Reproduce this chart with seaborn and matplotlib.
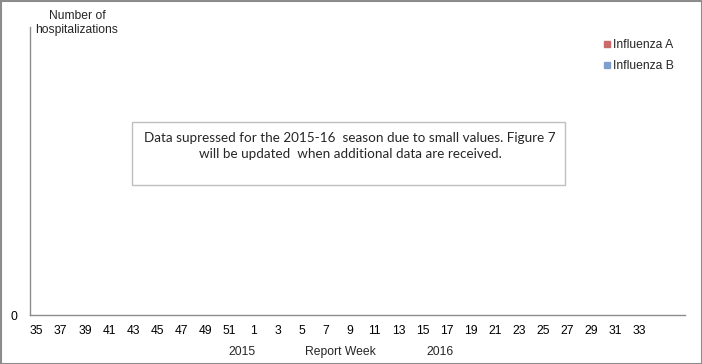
import matplotlib
matplotlib.use("Agg")
import matplotlib.pyplot as plt
import seaborn as sns
import pandas as pd
import numpy as np
from matplotlib.patches import Rectangle
from matplotlib.lines import Line2D

sns.set_theme(style="white")
plt.rcParams['font.family'] = ['Liberation Sans', 'DejaVu Sans']

weeks = list(range(35, 53)) + list(range(1, 37))
influenza_a = [np.nan] * len(weeks)   # suppressed
influenza_b = [np.nan] * len(weeks)   # suppressed
series_names = ["Influenza A", "Influenza B"]
series_colors = ["#CC6B6B", "#7F9FCF"]
note = ("Data supressed for the 2015-16  season due to small values. Figure 7\n"
        "will be updated  when additional data are received.")

df = pd.DataFrame({
    "idx": list(range(len(weeks))) * 2,
    "value": influenza_a + influenza_b,
    "series": [series_names[0]] * len(weeks) + [series_names[1]] * len(weeks),
})

fig = plt.figure(figsize=(7.02, 3.64), dpi=100)
ax = fig.add_axes([30/702, 49/364, 655/702, 288/364])
sns.lineplot(data=df, x="idx", y="value", hue="series", palette=series_colors,
             ax=ax, legend=False)

ax.set_xlim(-0.55, 53.75)
ax.set_ylim(0, 1)
tick_idx = list(range(0, 52, 2))
ax.set_xticks(tick_idx)
ax.set_xticklabels([str(weeks[i]) for i in tick_idx], fontsize=8.7, color="black")
ax.set_yticks([0])
ax.set_yticklabels(["0"], fontsize=8.7, color="black")
ax.tick_params(axis="x", length=0, pad=7)
ax.tick_params(axis="y", length=0, pad=9)
ax.set_xlabel("")
ax.set_ylabel("")
for s in ["top", "right"]:
    ax.spines[s].set_visible(False)
for s in ["left", "bottom"]:
    ax.spines[s].set_color("#8C8C8C")
    ax.spines[s].set_linewidth(1.0)

fig.text(77/702, 1 - 23/364, "Number of\nhospitalizations", ha="center", va="center",
         fontsize=8.7, linespacing=1.2)
fig.text(242/702, 1 - 352/364, "2015", ha="center", va="center", fontsize=8.7)
fig.text(340/702, 1 - 352/364, "Report Week", ha="center", va="center", fontsize=8.7)
fig.text(440/702, 1 - 352/364, "2016", ha="center", va="center", fontsize=8.7)

handles = [Line2D([0], [0], marker="s", linestyle="none", markersize=5,
                  markerfacecolor=c, markeredgecolor=c) for c in series_colors]
fig.legend(handles, series_names, loc="upper left", bbox_to_anchor=(597/702, 1 - 33/364),
           frameon=False, fontsize=8.7, handlelength=0.6, handletextpad=0.25,
           labelspacing=0.75, borderpad=0)

fig.patches.append(Rectangle((132/702, 1 - 185/364), 433/702, 63/364,
                             transform=fig.transFigure, fill=False,
                             edgecolor="#BFBFBF", linewidth=1.0))
fig.text(350/702, 1 - 146/364, note, ha="center", va="center", fontsize=9.7,
         family=["Lato", "DejaVu Sans"], linespacing=1.45)

fig.patches.append(Rectangle((0.5/702, 0.5/364), 701/702, 363/364,
                             transform=fig.transFigure, fill=False,
                             edgecolor="#8C8C8C", linewidth=1.5))

fig.savefig("out.png", dpi=100)
